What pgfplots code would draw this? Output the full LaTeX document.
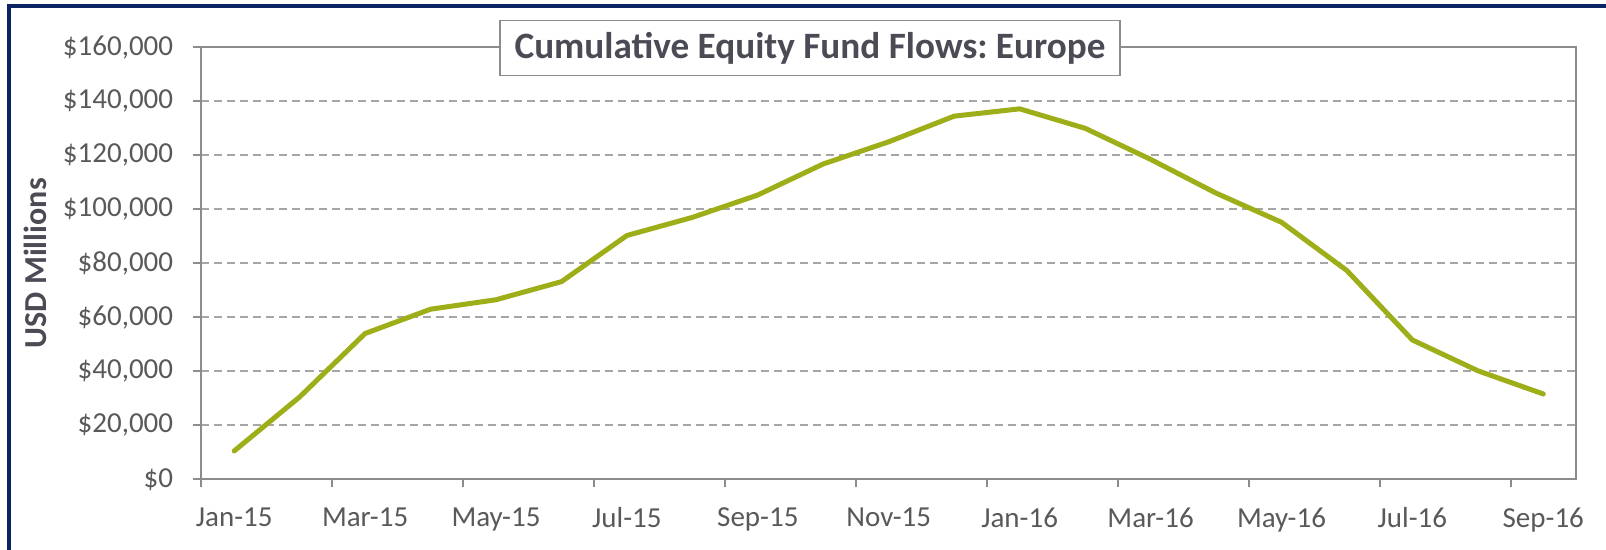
\documentclass[border=0pt]{standalone}
\usepackage{pgfplots}
\pgfplotsset{compat=1.18}
\usepackage{fontspec}
\setmainfont{Carlito}
\frenchspacing
\definecolor{navyframe}{RGB}{12,35,100}
\definecolor{olive}{RGB}{158,174,24}
\definecolor{ticktext}{RGB}{89,89,89}
\definecolor{titletext}{RGB}{75,75,85}
\definecolor{gridgray}{RGB}{166,166,166}
\definecolor{axisgray}{RGB}{140,140,140}
\begin{document}
\begin{tikzpicture}
\path[use as bounding box] (0,0) rectangle (803pt,275pt);
\draw[navyframe, line width=2pt, line join=miter, line cap=rect] (4.35pt,-2pt) -- (4.35pt,272pt) -- (805pt,272pt);
\begin{axis}[
  at={(100.75pt,35.35pt)}, anchor=south west,
  scale only axis, width=687.25pt, height=216pt,
  xmin=-0.5, xmax=20.5, ymin=0, ymax=160000,
  scaled y ticks=false,
  axis line style={draw=axisgray, line width=1pt},
  tick align=outside,
  xtick={0,2,...,20},
  xticklabels={Jan-15,Mar-15,May-15,Jul-15,Sep-15,Nov-15,Jan-16,Mar-16,May-16,Jul-16,Sep-16},
  major x tick style={draw=none},
  minor xtick={-0.5,1.5,...,19.5},
  minor x tick style={draw=axisgray, line width=1pt},
  minor tick length=4pt,
  major tick length=4pt,
  ytick={0,20000,...,160000},
  yticklabels={\$0,{\$20,000},{\$40,000},{\$60,000},{\$80,000},{\$100,000},{\$120,000},{\$140,000},{\$160,000}},
  y tick style={draw=axisgray, line width=1pt},
  xtick pos=bottom, ytick pos=left,
  ymajorgrids,
  grid style={draw=gridgray, line width=0.9pt, dash pattern=on 4pt off 2.5pt},
  ticklabel style={font=\fontsize{14.5}{16}\selectfont, text=ticktext, inner sep=0pt},
  yticklabel style={xshift=-10pt},
  xticklabel style={yshift=-10pt},
  ylabel={USD Millions},
  ylabel style={at={(axis description cs:-0.1208,0.5)}, anchor=center, font=\fontsize{16}{18}\selectfont\bfseries, text=titletext},
  clip=false,
]
\addplot[olive, line width=2.5pt, line join=round, line cap=round] coordinates {
(0,10500) (1,30500) (2,54000) (3,63000) (4,66500) (5,73200) (6,90300)
(7,97000) (8,105300) (9,116800) (10,125000) (11,134500) (12,137200)
(13,130000) (14,118500) (15,106000) (16,95200) (17,77300) (18,51600)
(19,40200) (20,31600)
};
\end{axis}
\node[draw=axisgray, line width=0.8pt, fill=white, minimum width=310pt, minimum height=27.5pt, inner sep=0pt, text=titletext, font=\fontsize{18.6}{20}\selectfont\bfseries] at (405pt,250.9pt) {Cumulative Equity Fund Flows: Europe};
\end{tikzpicture}
\end{document}
